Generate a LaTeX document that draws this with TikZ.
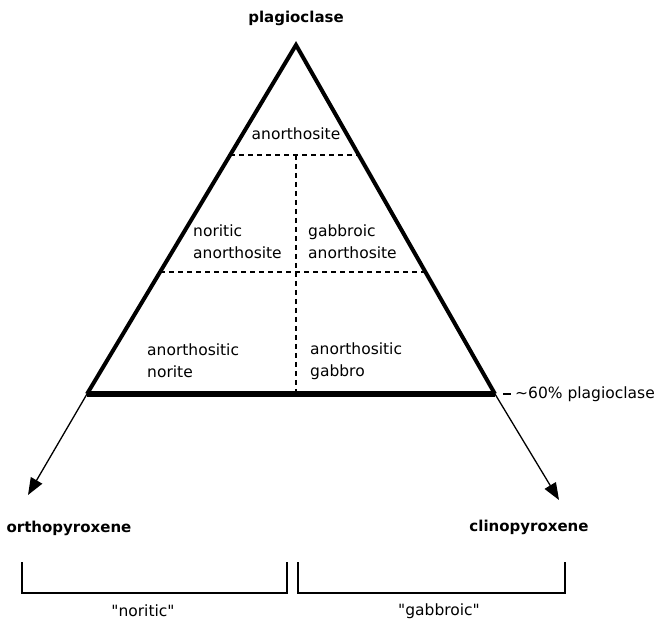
\documentclass[tikz,border=0pt]{standalone}
\usepackage{fontspec}
\setmainfont{DejaVu Sans}
\usetikzlibrary{arrows.meta,calc}
\tikzset{
  lbl/.style={font=\fontsize{15.5}{22}\selectfont, inner sep=0pt},
  endlbl/.style={font=\bfseries\fontsize{15}{18}\selectfont, inner sep=0pt},
  field/.style={lbl, align=left, anchor=west},
  divide/.style={dash pattern=on 5pt off 4pt, line width=1.4pt},
  side/.style={line width=4pt, line join=miter},
  trend/.style={line width=1.3pt, -{Triangle[length=17pt,width=13pt]}},
  bracket/.style={line width=2pt, line join=miter},
}
\begin{document}
\begin{tikzpicture}[x=1pt,y=-1pt]
    \useasboundingbox (0,0) rectangle (661,624);
    % corners of the triangle
    \coordinate (apx) at (296,45);
    \coordinate (bl) at (87,394);
    \coordinate (br) at (495,394);
    \coordinate (t1) at ($(apx)!0.315!(bl)$);
    \coordinate (t2) at ($(apx)!0.315!(br)$);
    \coordinate (m1) at ($(apx)!0.650!(bl)$);
    \coordinate (m2) at ($(apx)!0.650!(br)$);
    \coordinate (bmid) at (296,394);
    % field boundaries
    \draw[divide] (t1) -- (t2);
    \draw[divide] (m1) -- (m2);
    \draw[divide] (t1 -| apx) -- (bmid);
    \draw[side] (bl) -- (apx) -- (br);
    \draw[line width=6pt] (bl) -- (br);
    % labels
    \node[endlbl] (plag) at (296,18) {plagioclase};
    \node[endlbl] (opx) at (69,528) {orthopyroxene};
    \node[endlbl] (cpx) at (529,527) {clinopyroxene};
    \node[lbl] (anor) at (296,134) {anorthosite};
    \node[field] (noran) at (193,242) {noritic\\anorthosite};
    \node[field] (gaban) at (308,242) {gabbroic\\anorthosite};
    \node[field] (anorn) at (147,361) {anorthositic\\norite};
    \node[field] (anorg) at (310,361) {anorthositic\\gabbro};
    \node[lbl, anchor=west] (pct) at (515,394) {\textasciitilde 60\% plagioclase};
    \draw[line width=2pt] ([xshift=-12pt]pct.west) -- ([xshift=-4pt]pct.west);
    % arrows to the pyroxenes
    \coordinate (opxtip) at (28,495);
    \coordinate (cpxtip) at (559,500);
    \draw[trend] (bl) -- (opxtip);
    \draw[trend] (br) -- (cpxtip);
    % brackets
    \node[lbl] (nor) at (143,611) {\textquotedbl noritic\textquotedbl};
    \node[lbl] (gab) at (439,611) {\textquotedbl gabbroic\textquotedbl};
    \draw[bracket] (22,562) -- (22,593) -- (287,593) -- (287,562);
    \draw[bracket] (298,562) -- (298,593) -- (565,593) -- (565,562);
\end{tikzpicture}
\end{document}
